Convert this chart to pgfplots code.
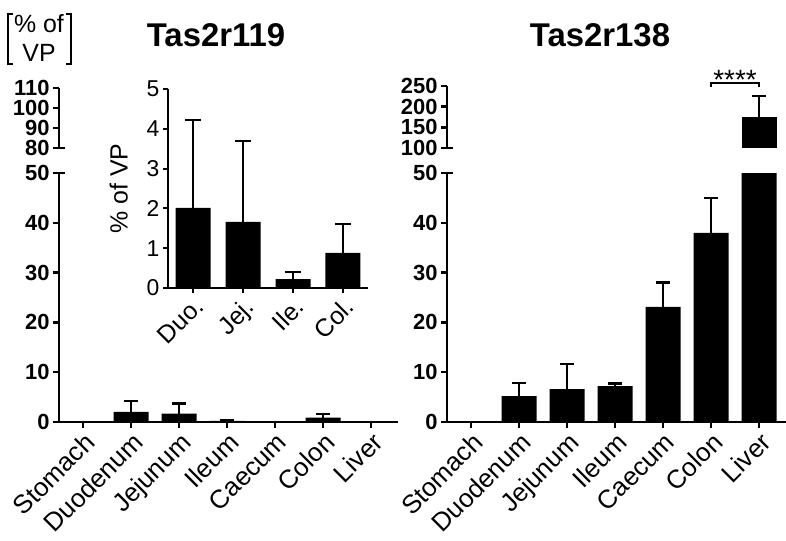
\documentclass[border=0pt]{standalone}
\usepackage{fontspec}
\setmainfont{Liberation Sans}
\usepackage{pgfplots}
\pgfplotsset{compat=1.18}
\usepackage{pgfplotstable}

\pgfplotstableread{
x y e
0 0 0
1 2.01 2.21
2 1.66 2.03
3 0.22 0.18
4 0 0
5 0.88 0.73
6 0 0
}\leftdata

\pgfplotstableread{
x y e
0 2.01 2.21
1 1.66 2.03
2 0.22 0.18
3 0.88 0.73
}\insetdata

\pgfplotstableread{
x y e
0 0 0
1 5.2 2.6
2 6.6 5.0
3 7.2 0.5
4 23.1 4.9
5 38.0 7.0
6 175 51
}\rightdata

\newcommand\tickfont{\fontsize{22}{22}\selectfont\bfseries}
\newcommand\catfont{\fontsize{26}{26}\selectfont}

\pgfplotsset{
  prism/.style={
    scale only axis, anchor=south west,
    width=339bp,
    xmin=-0.5, xmax=6.56,
    axis y line*=left,
    axis line style={line width=2.5bp,-},
    tick style={line width=2.5bp,black},
    tick align=outside, major tick length=6bp,
    ybar, bar width=35bp,
    clip marker paths=true,
    /pgf/number format/assume math mode=true,
    yticklabel style={font=\tickfont},
  },
  lowerax/.style={
    prism, height=249bp, ymin=0, ymax=50,
    axis x line*=bottom,
    ytick={0,10,20,30,40,50},
    xtick={0,...,6},
    xticklabels={Stomach,Duodenum,Jejunum,Ileum,Caecum,Colon,Liver},
    xticklabel style={font=\catfont, rotate=45, anchor=north east, inner sep=2bp},
  },
  upperax/.style={
    prism, axis x line=none, xtick=\empty,
  },
  barplot/.style={
    fill=black, draw=none,
    error bars/.cd, y dir=plus, y explicit,
    error bar style={line width=2.5bp,black,solid},
    error mark options={rotate=90, line width=2.5bp, mark size=7bp, black},
  },
}

\begin{document}
\begin{tikzpicture}
\path[use as bounding box] (0bp,0bp) rectangle (786bp,541bp);

% ---------- left panel ----------
\begin{axis}[lowerax, at={(59bp,119bp)}]
\addplot[barplot] table[x=x,y=y,y error=e]{\leftdata};
\coordinate (L0) at (rel axis cs:0,0);
\coordinate (L1) at (rel axis cs:0,1);
\end{axis}
\begin{axis}[upperax, at={(59bp,393bp)}, height=60bp, ymin=80, ymax=110,
  ytick={80,90,100,110}]
\coordinate (LU) at (rel axis cs:0,0);
\end{axis}

% inset
\begin{axis}[scale only axis, anchor=south west, at={(168bp,253bp)},
  width=200bp, height=199bp, xmin=-0.5, xmax=3.5, ymin=0, ymax=5,
  ytick={0,...,5}, xtick={0,1,2,3}, xticklabels={Duo.,Jej.,Ile.,Col.},
  axis x line*=bottom, axis y line*=left,
  axis line style={line width=2bp,-},
  tick style={line width=2bp,black},
  tick align=outside, major tick length=5bp,
  ybar, bar width=35bp, clip marker paths=true,
  /pgf/number format/assume math mode=true,
  yticklabel style={font=\fontsize{23}{23}\selectfont},
  xticklabel style={font=\fontsize{25}{25}\selectfont, rotate=45, anchor=north east, inner sep=2bp},
  ylabel={\% of VP}, ylabel style={font=\fontsize{25}{25}\selectfont, yshift=12bp},
]
\addplot[fill=black, draw=none,
  error bars/.cd, y dir=plus, y explicit,
  error bar style={line width=2bp,black,solid},
  error mark options={rotate=90, line width=2bp, mark size=8bp, black}]
  table[x=x,y=y,y error=e]{\insetdata};
\end{axis}

% ---------- right panel ----------
\begin{axis}[lowerax, at={(447bp,119bp)}]
\addplot[barplot] table[x=x,y=y,y error=e]{\rightdata};
\coordinate (R0) at (rel axis cs:0,0);
\coordinate (R1) at (rel axis cs:0,1);
\end{axis}
\begin{axis}[upperax, at={(447bp,393bp)}, height=62bp, ymin=100, ymax=250,
  ytick={100,150,200,250}, restrict y to domain=99:400]
\addplot[barplot] table[x=x,y=y,y error=e]{\rightdata};
\coordinate (RU) at (rel axis cs:0,0);
\coordinate (sa) at (axis cs:5,248);
\coordinate (sb) at (axis cs:6,257);
\coordinate (sc) at (axis cs:6,248);
\coordinate (sm) at (axis cs:5.5,257);
\end{axis}

% axis-break end caps
\foreach \p in {L0,L1,LU,R0,R1,RU}{
  \draw[line width=2.5bp] ([xshift=-6bp]\p) -- ([xshift=6bp]\p);
}

\draw[line width=1.5bp] (sa) |- (sb) -- (sc);
\node[anchor=base, inner sep=0pt, font=\fontsize{28}{28}\selectfont] at ([yshift=-6bp]sm) {****};

% titles
\node[anchor=base, inner sep=0pt, font=\fontsize{33}{33}\selectfont\bfseries] at (216bp,494bp) {Tas2r119};
\node[anchor=base, inner sep=0pt, font=\fontsize{33}{33}\selectfont\bfseries] at (600bp,494bp) {Tas2r138};

% units label
\node[anchor=base, inner sep=0pt, font=\fontsize{25}{25}\selectfont] at (39bp,508bp) {\% of};
\node[anchor=base, inner sep=0pt, font=\fontsize{25}{25}\selectfont] at (39bp,479bp) {VP};
\draw[line width=2bp] (13bp,527bp) -- (8bp,527bp) -- (8bp,477bp) -- (13bp,477bp);
\draw[line width=2bp] (66bp,527bp) -- (71bp,527bp) -- (71bp,477bp) -- (66bp,477bp);
\end{tikzpicture}
\end{document}
